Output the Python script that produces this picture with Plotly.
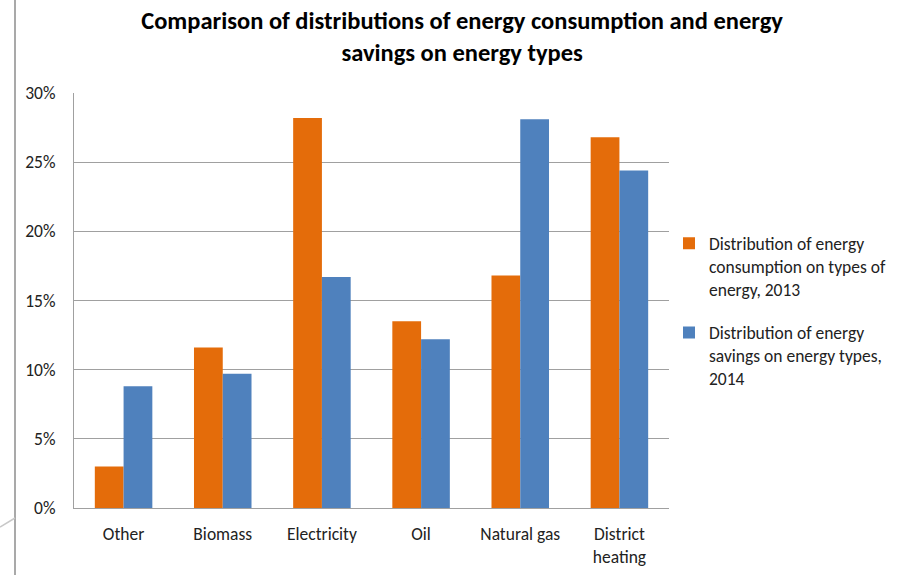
import plotly.graph_objects as go

# Energy types on the x-axis
categories = ["Other", "Biomass", "Electricity", "Oil", "Natural gas", "District<br>heating"]

# Share of energy consumption by type, 2013 (%)
consumption_2013 = [3.0, 11.6, 28.2, 13.5, 16.8, 26.8]
# Share of energy savings by type, 2014 (%)
savings_2014 = [8.8, 9.7, 16.7, 12.2, 28.1, 24.4]

series_names = [
    "Distribution of energy<br>consumption on types of<br>energy, 2013",
    "Distribution of energy<br>savings on energy types,<br>2014",
]
y_ticks = [0, 5, 10, 15, 20, 25, 30]
y_tick_labels = [f"{v}%" for v in y_ticks]

FONT = "Calibri, Carlito, 'Liberation Sans Narrow', 'Open Sans', sans-serif"
ORANGE = "#E46C0A"
BLUE = "#4F81BD"
GRID = "#A0A0A0"

fig = go.Figure()
fig.add_trace(go.Bar(x=categories, y=consumption_2013, name=series_names[0],
                     legendgroup="consumption",
                     marker=dict(color=ORANGE, line=dict(width=0))))
fig.add_trace(go.Bar(x=categories, y=savings_2014, name=series_names[1],
                     legendgroup="savings",
                     marker=dict(color=BLUE, line=dict(width=0))))

fig.update_layout(
    width=899, height=575,
    margin=dict(l=74, r=230, t=93, b=67, autoexpand=False),
    paper_bgcolor="white", plot_bgcolor="white",
    barmode="group", bargap=0.42, bargroupgap=0,
    font=dict(family=FONT, size=17.5, color="#222222"),
    title=dict(
        text="<b>Comparison of distributions of energy consumption and energy<br>savings on energy types</b>",
        x=0.514, xanchor="center", y=0.95, yanchor="top",
        font=dict(family=FONT, size=24.5, color="#000000"),
    ),
    legend=dict(
        x=1.0, xanchor="left", y=0.475, yanchor="middle",
        valign="top", tracegroupgap=18,
        font=dict(family=FONT, size=17.5, color="#222222"),
    ),
    showlegend=True,
)

fig.update_xaxes(
    showline=True, linecolor=GRID, linewidth=1,
    ticks="", showgrid=False, ticklabelstandoff=10,
    tickfont=dict(size=17.5),
)
fig.update_yaxes(
    range=[0, 30], tickvals=y_ticks, ticktext=y_tick_labels,
    showline=True, linecolor=GRID, linewidth=1,
    showgrid=True, gridcolor=GRID, gridwidth=1,
    ticks="", ticklabelstandoff=14, zeroline=False,
    tickfont=dict(size=17.5),
)

# Page-edge rule on the left and its small slanted stroke
fig.add_shape(type="line", xref="paper", yref="paper",
              x0=-59/595, x1=-59/595, y0=-67/415, y1=1 + 93/415,
              line=dict(color="#8C8C8C", width=1.5))
fig.add_shape(type="line", xref="paper", yref="paper",
              x0=-74/595, x1=-59/595, y0=-(527 - 508)/415, y1=-(518 - 508)/415,
              line=dict(color="#C8C8C8", width=1.5))

fig.write_html("out.html")
